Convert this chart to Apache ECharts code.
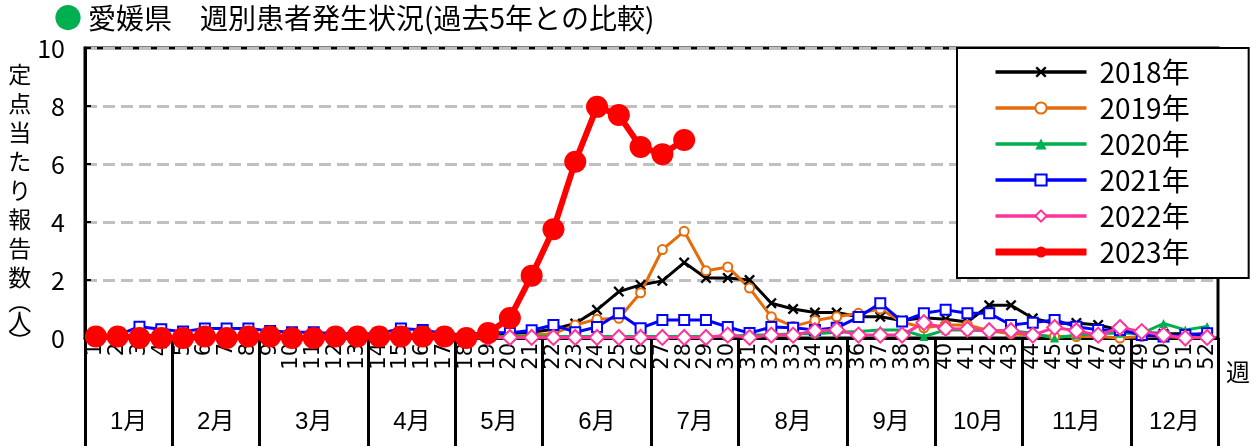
<!DOCTYPE html>
<html>
<head>
<meta charset="utf-8">
<script src="https://cdn.jsdelivr.net/npm/echarts@6/dist/echarts.min.js"></script>
<style>
  html, body { margin: 0; padding: 0; background: #fff; }
  #chart { width: 1258px; height: 446px; }
</style>
</head>
<body>
<div id="chart"></div>
<script>
// week numbers on the x axis
const weeks = ['1','2','3','4','5','6','7','8','9','10','11','12','13','14','15','16','17','18','19','20',
  '21','22','23','24','25','26','27','28','29','30','31','32','33','34','35','36','37','38','39','40',
  '41','42','43','44','45','46','47','48','49','50','51','52'];

// months and the last week of each month
const months = ['1月','2月','3月','4月','5月','6月','7月','8月','9月','10月','11月','12月'];
const monthEndWeek = [4, 8, 13, 17, 21, 26, 30, 35, 39, 43, 48, 52];

const years = ['2018年','2019年','2020年','2021年','2022年','2023年'];

const y2018 = [0.05,0.05,0.1,0.05,0.05,0.1,0.05,0.05,0.05,0.05,0.05,0.05,0.05,0.05,0.05,0.05,0.05,0.05,0.1,0.15,
  0.2,0.3,0.5,0.97,1.6,1.83,1.97,2.6,2.07,2.07,2.0,1.2,1.0,0.88,0.88,0.73,0.73,0.6,0.7,0.65,
  0.55,1.13,1.13,0.68,0.5,0.52,0.45,0.28,0.2,0.15,0.15,0.1];
const y2019 = [0.05,0.05,0.05,0.05,0.05,0.05,0.05,0.05,0.05,0.05,0.05,0.05,0.05,0.05,0.05,0.05,0.05,0.05,0.05,0.05,
  0.1,0.15,0.45,0.65,0.68,1.56,3.05,3.68,2.32,2.45,1.72,0.73,0.4,0.6,0.73,0.85,1.0,0.55,0.35,0.45,
  0.45,0.25,0.15,0.1,0.05,0.05,0.05,0.0,0.05,0.05,0.02,0.02];
const y2020 = [0.05,0.05,0.05,0.05,0.05,0.05,0.05,0.05,0.05,0.05,0.05,0.05,0.05,0.05,0.05,0.05,0.05,0.05,0.05,0.05,
  0.05,0.05,0.05,0.05,0.05,0.05,0.05,0.05,0.05,0.05,0.1,0.1,0.15,0.15,0.2,0.22,0.28,0.28,0.05,0.28,
  0.28,0.25,0.25,0.16,0.0,0.1,0.16,0.16,0.16,0.5,0.28,0.4];
const y2021 = [0.05,0.1,0.39,0.3,0.22,0.33,0.33,0.33,0.24,0.2,0.2,0.15,0.15,0.15,0.33,0.28,0.15,0.1,0.2,0.17,
  0.27,0.45,0.2,0.38,0.85,0.34,0.62,0.62,0.62,0.38,0.17,0.38,0.35,0.28,0.35,0.72,1.2,0.57,0.85,0.97,
  0.85,0.85,0.45,0.53,0.62,0.39,0.28,0.28,0.1,0.05,0.1,0.16];
const y2022 = [0,0,0,0,0,0,0,0,0,0,0,0,0,0,0,0,0,0,0,0.02,
  0.02,0.02,0.02,0.02,0.02,0.02,0.02,0.02,0.02,0.1,0.02,0.1,0.1,0.25,0.28,0.1,0.1,0.1,0.53,0.33,
  0.3,0.25,0.25,0.1,0.36,0.25,0.1,0.36,0.22,0.1,0.0,0.02];
const y2023 = [0.05,0.05,0,0,0,0.05,0,0.05,0.05,0,0,0.05,0.05,0.05,0.05,0.05,0.05,0,0.17,0.69,
  2.15,3.75,6.08,7.97,7.69,6.59,6.34,6.83];

const NUM = "'Liberation Sans Narrow', 'Noto Sans CJK JP', sans-serif";
const CJK = "'Noto Sans CJK JP', sans-serif";
const CROSS = 'path://M0,1.5L1.5,0L5,3.5L8.5,0L10,1.5L6.5,5L10,8.5L8.5,10L5,6.5L1.5,10L0,8.5L3.5,5Z';

// half-week slots so month labels can sit between week ticks
const halfSlots = [];
for (let i = 0; i <= weeks.length * 2; i++) halfSlots.push(String(i));
const monthBounds = [0].concat(monthEndWeek.map(w => w * 2));
const monthCenters = {};
for (let m = 0; m < months.length; m++) {
  monthCenters[(monthBounds[m] + monthBounds[m + 1]) / 2] = months[m];
}

function line(name, data, color, symbol, size, width) {
  return {
    name: name,
    type: 'line',
    data: data,
    xAxisIndex: 0,
    symbol: symbol,
    symbolSize: size,
    showSymbol: true,
    lineStyle: { color: color, width: width },
    itemStyle: { color: color, borderWidth: 2.5 },
    emphasis: { disabled: true }
  };
}

const yName = ['定','点','当','た','り','報','告','数'].map(c => '{a|' + c + '}')
  .concat(['︵','人','︶'].map(c => '{b|' + c + '}')).join('\n');

const chart = echarts.init(document.getElementById('chart'));
chart.setOption({
  animation: false,
  backgroundColor: '#fff',
  title: {
    text: '{d|●}{t|愛媛県　週別患者発生状況(過去5年との比較)}',
    left: 54,
    top: 4,
    padding: 0,
    textStyle: {
      rich: {
        d: { color: '#00b050', fontSize: 28, fontFamily: CJK, fontWeight: 'normal', padding: [0, 6, 0, 0] },
        t: { color: '#000', fontSize: 28, fontFamily: CJK, fontWeight: 'normal' }
      }
    }
  },
  legend: {
    orient: 'vertical',
    left: 957,
    top: 48,
    backgroundColor: '#fff',
    borderColor: '#000',
    borderWidth: 2,
    borderRadius: 0,
    padding: [10, 59, 12, 35],
    itemWidth: 91,
    itemHeight: 14,
    itemGap: 8,
    selectedMode: false,
    textStyle: { fontSize: 28, lineHeight: 28, fontFamily: NUM, color: '#000', padding: [0, 0, 0, 8] },
    data: years.map((y, i) => ({ name: y, lineStyle: { width: i === 5 ? 7 : 3.5 } }))
  },
  grid: {
    left: 85, right: 40, top: 48, bottom: 108,
    show: true, borderColor: '#000', borderWidth: 3
  },
  xAxis: [{
    type: 'category',
    data: weeks,
    position: 'bottom',
    boundaryGap: true,
    axisLine: { lineStyle: { color: '#000', width: 3 } },
    axisTick: { interval: 0, length: 50, lineStyle: { color: '#000', width: 3 } },
    axisLabel: { interval: 0, rotate: 90, margin: 5, fontSize: 21, fontFamily: "'DejaVu Sans', sans-serif", color: '#000' },
    splitLine: { show: false },
    name: '週',
    nameLocation: 'end',
    nameGap: 8,
    nameTextStyle: { fontSize: 24, fontFamily: CJK, color: '#000', verticalAlign: 'top', padding: [22, 0, 0, 0] }
  }, {
    type: 'category',
    data: halfSlots,
    position: 'bottom',
    boundaryGap: false,
    axisLine: { show: false },
    axisTick: {
      show: true,
      length: 108,
      interval: (i) => monthBounds.indexOf(i) >= 0,
      lineStyle: { color: '#000', width: 3 }
    },
    axisLabel: {
      interval: (i) => monthCenters[i] !== undefined,
      formatter: (v, i) => monthCenters[i] || '',
      margin: 72,
      fontSize: 24,
      fontFamily: "'Liberation Sans', 'Noto Sans CJK JP', sans-serif",
      color: '#000'
    },
    splitLine: { show: false }
  }],
  yAxis: {
    type: 'value',
    min: 0,
    max: 10,
    interval: 2,
    axisLine: { show: true, lineStyle: { color: '#000', width: 3 } },
    axisTick: { show: true, inside: true, length: 6, lineStyle: { color: '#000', width: 2 } },
    axisLabel: { fontSize: 25, fontFamily: NUM, color: '#000', margin: 20 },
    splitLine: { show: true, lineStyle: { color: '#c0c0c0', width: 3, type: [12, 6] } },
    name: yName,
    nameLocation: 'middle',
    nameRotate: 0,
    nameGap: 49,
    nameTextStyle: {
      color: '#000',
      padding: [25, 0, 0, 0],
      rich: {
        a: { fontSize: 23, lineHeight: 29, fontFamily: CJK, color: '#000' },
        b: { fontSize: 23, lineHeight: 20, fontFamily: CJK, color: '#000' }
      }
    }
  },
  series: [
    line('2018年', y2018, '#000000', CROSS, 11, 3),
    line('2019年', y2019, '#e46c0a', 'emptyCircle', 9, 3),
    line('2020年', y2020, '#00b050', 'triangle', 9, 3),
    line('2021年', y2021, '#0000ff', 'emptyRect', 10, 3),
    line('2022年', y2022, '#ff3399', 'emptyDiamond', 15, 3),
    line('2023年', y2023, '#ff0000', 'circle', 22, 6)
  ]
});
</script>
</body>
</html>
